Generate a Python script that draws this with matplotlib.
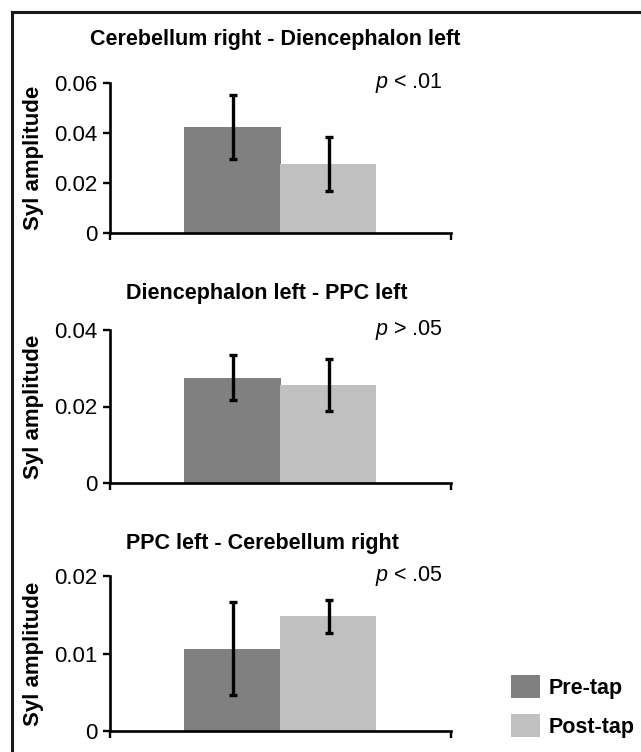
import matplotlib
matplotlib.use("Agg")
import matplotlib.pyplot as plt
from matplotlib.patches import Patch
from matplotlib.lines import Line2D

plt.rcParams['font.family'] = ['Liberation Sans', 'DejaVu Sans']
plt.rcParams['mathtext.fontset'] = 'custom'
plt.rcParams['mathtext.rm'] = 'Liberation Sans'
plt.rcParams['mathtext.it'] = 'Liberation Sans:italic'

# ---- data ----
titles = ["Cerebellum right - Diencephalon left",
          "Diencephalon left - PPC left",
          "PPC left - Cerebellum right"]
conditions = ["Pre-tap", "Post-tap"]
pre_means = [0.0425, 0.0275, 0.0106]
pre_errs = [0.0128, 0.0059, 0.0060]
post_means = [0.0276, 0.0256, 0.0148]
post_errs = [0.0108, 0.0069, 0.0021]
p_texts = [r"$\mathit{p}$ < .01", r"$\mathit{p}$ > .05", r"$\mathit{p}$ < .05"]
y_maxes = [0.06, 0.04, 0.02]
y_ticks = [[0, 0.02, 0.04, 0.06], [0, 0.02, 0.04], [0, 0.01, 0.02]]
y_ticklabels = [["0", "0.02", "0.04", "0.06"], ["0", "0.02", "0.04"], ["0", "0.01", "0.02"]]

colors = ["#808080", "#c0c0c0"]

W, H = 641, 752
fig = plt.figure(figsize=(W / 100, H / 100), dpi=100)

# axes positions in pixels: (top, bottom)
panels_px = [(83, 233), (330, 483), (576, 731)]
title_pos = [(275, 40), (267, 293), (262, 543)]
x_left, x_right = 110, 451

bar_w = 96 / 341.0
for i in range(3):
    top, bot = panels_px[i]
    ax = fig.add_axes([x_left / W, 1 - bot / H, (x_right - x_left) / W, (bot - top) / H])
    ax.bar([0.5 - bar_w / 2], [pre_means[i]], width=bar_w, color=colors[0],
           yerr=[pre_errs[i]], error_kw=dict(ecolor='black', elinewidth=2.4, capsize=3, capthick=2.4))
    ax.bar([0.5 + bar_w / 2], [post_means[i]], width=bar_w, color=colors[1],
           yerr=[post_errs[i]], error_kw=dict(ecolor='black', elinewidth=2.4, capsize=3, capthick=2.4))
    ax.set_xlim(0, 1)
    ax.set_ylim(0, y_maxes[i])
    ax.set_yticks(y_ticks[i])
    ax.set_yticklabels(y_ticklabels[i], fontsize=16)
    ax.set_xticks([0, 1])
    ax.set_xticklabels([])
    ax.tick_params(axis='y', direction='out', length=5, width=1.7, pad=4)
    ax.tick_params(axis='x', direction='out', length=5, width=1.7)
    for s in ['top', 'right']:
        ax.spines[s].set_visible(False)
    for s in ['left', 'bottom']:
        ax.spines[s].set_linewidth(1.9)
    ax.set_ylabel("Syl amplitude", fontsize=16, fontweight='bold')
    ax.yaxis.set_label_coords(-(110 - 44) / 341.0, 0.5)
    ax.text((375 - 110) / 341.0, 1.0, p_texts[i], transform=ax.transAxes,
            fontsize=15.5, ha='left', va='center')
    tx, ty = title_pos[i]
    fig.text(tx / W, 1 - ty / H, titles[i], fontsize=15.5, fontweight='bold',
             ha='center', va='center')

handles = [Patch(facecolor=colors[0], edgecolor='none'),
           Patch(facecolor=colors[1], edgecolor='none')]
leg = fig.legend(handles, conditions, loc='upper left',
                 bbox_to_anchor=(511 / W, 1 - 675 / H), frameon=False,
                 prop={'weight': 'bold', 'size': 15.5},
                 handlelength=1.35, handleheight=1.3, handletextpad=0.4,
                 labelspacing=0.7, borderpad=0, borderaxespad=0)

# outer frame (left and top edges)
fig.add_artist(Line2D([12 / W, 12 / W], [0, 1 - 12 / H], color='#1a1a1a', lw=2.2,
                      transform=fig.transFigure))
fig.add_artist(Line2D([12 / W, 1], [1 - 12 / H, 1 - 12 / H], color='#1a1a1a', lw=2.2,
                      transform=fig.transFigure))

fig.savefig("out.png", dpi=100)
